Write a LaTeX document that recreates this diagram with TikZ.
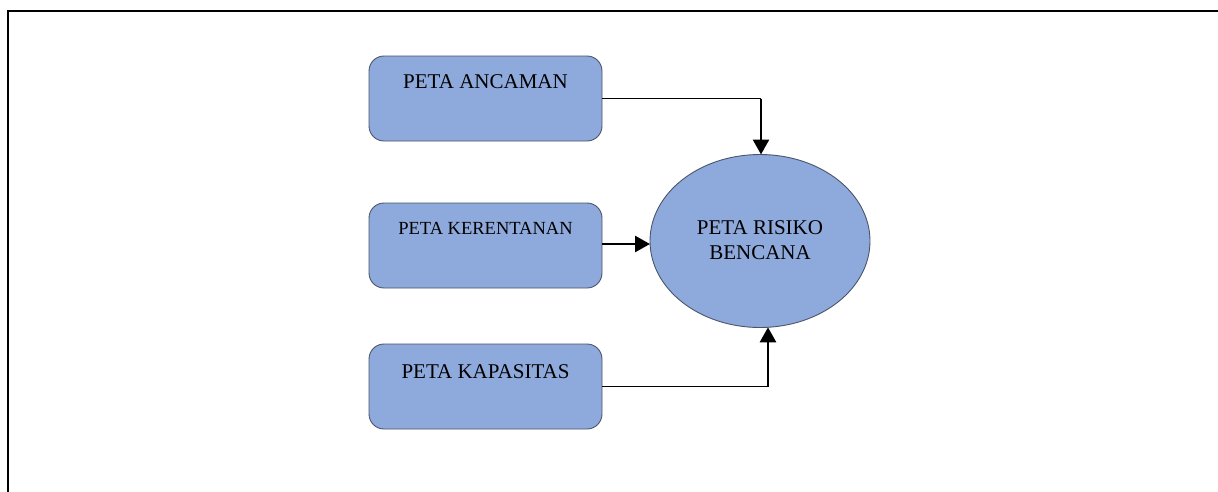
\documentclass[tikz,border=0pt]{standalone}
\usepackage{fontspec}
\setmainfont{Liberation Serif}
\usetikzlibrary{arrows.meta}
\definecolor{boxfill}{RGB}{142,169,219}
\definecolor{boxline}{RGB}{75,85,105}
\tikzset{
  mapbox/.style={draw=boxline, line width=0.9pt, fill=boxfill, rounded corners=15pt,
    minimum width=233pt, minimum height=85pt, inner sep=0pt},
  boxtext/.style={font=\fontsize{21}{25}\selectfont, inner sep=0pt},
  smalltext/.style={font=\fontsize{18.5}{22}\selectfont, inner sep=0pt},
  riskell/.style={draw=boxline, line width=0.9pt, fill=boxfill, ellipse shape},
  thinline/.style={line width=1pt},
  thickarrow/.style={line width=2.6pt, -{Triangle[length=15pt,width=16pt]}},
}
\begin{document}
\begin{tikzpicture}[x=1pt,y=-1pt]
\useasboundingbox (0,0) rectangle (1218,491);
% frame
\draw[line width=2pt] (8,493) -- (8,11) -- (1220,11);
% boxes
\node[mapbox] (anc) at (485.5,98.5) {};
\node[boxtext] (anct) at (485.5,82) {PETA ANCAMAN};
\node[mapbox] (ker) at (485.5,245.5) {};
\node[smalltext] (kert) at (485.5,228) {PETA KERENTANAN};
\node[mapbox] (kap) at (485.5,386.5) {};
\node[boxtext] (kapt) at (485.5,372) {PETA KAPASITAS};
% ellipse
\draw[draw=boxline, line width=0.9pt, fill=boxfill] (760,241) ellipse [x radius=110, y radius=86.5];
\coordinate (rtop) at (761,154.5);
\coordinate (rleft) at (650,244);
\coordinate (rbot) at (768,327.3);
\node[boxtext, align=center] (risk) at (760,240) {PETA RISIKO\\BENCANA};
% connectors
\coordinate (c1) at (761,98.5);
\draw[thinline] (anc.east) -- (c1);
\draw[thickarrow] (c1) -- (rtop);
\draw[thickarrow] (ker.east |- rleft) -- (rleft);
\coordinate (c3) at (768,386.5);
\draw[thinline] (kap.east) -- (c3);
\draw[thickarrow] (c3) -- (rbot);
\end{tikzpicture}
\end{document}
